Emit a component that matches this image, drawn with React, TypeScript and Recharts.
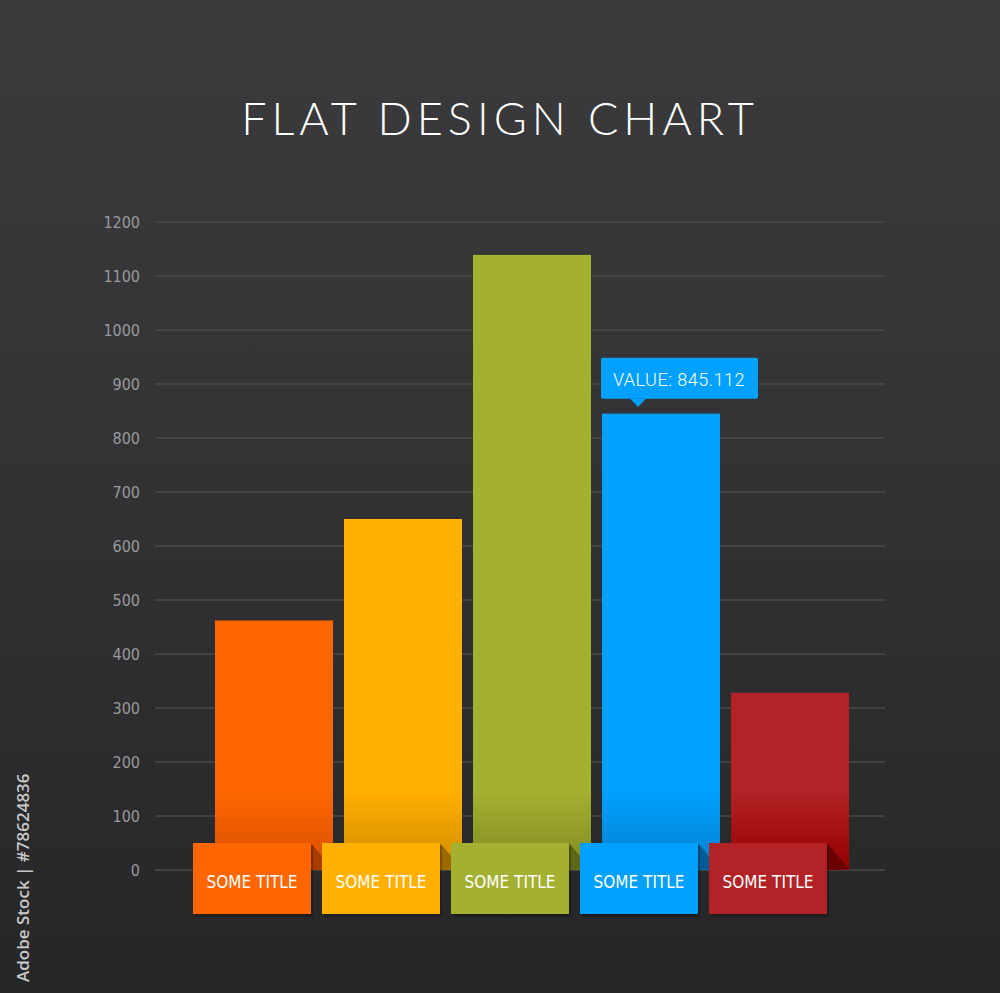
import React from "react";
import { BarChart, Bar, XAxis, YAxis, CartesianGrid, Cell, LabelList } from "recharts";

const categories = ["SOME TITLE", "SOME TITLE", "SOME TITLE", "SOME TITLE", "SOME TITLE"];
const values = [462, 650, 1139, 845.112, 328];
const colors = ["#ff6600", "#ffb000", "#a4b030", "#00a0ff", "#b22226"];
const darkColors = ["#d94f00", "#d08a00", "#808b22", "#0080cc", "#950000"];
const foldColors = ["#a63c00", "#9c6800", "#5e6618", "#005c96", "#6a0000"];
const yTicks = [0, 100, 200, 300, 400, 500, 600, 700, 800, 900, 1000, 1100, 1200];
const calloutIndex = 3;

const data = categories.map((name, i) => ({ id: i, name, value: values[i] }));

const W = 1000;
const H = 993;
const narrow = "'DejaVu Sans Condensed', 'Liberation Sans Narrow', 'Roboto', sans-serif";

function BarWithLabel(props: any) {
  const { x, y, width, height, index } = props;
  const base = y + height;
  const boxTop = base - 27;
  const boxX = x - 22;
  const boxH = 71;
  return (
    <g>
      <rect x={x} y={y} width={width} height={height} fill={`url(#grad${index})`} />
      <polygon
        points={`${boxX + width},${boxTop} ${x + width},${base - 1} ${boxX + width},${base}`}
        fill={foldColors[index]}
      />
      <rect x={boxX + 2} y={boxTop + 3} width={width} height={boxH} fill="#000" opacity={0.25} />
      <rect x={boxX} y={boxTop} width={width} height={boxH} fill={colors[index]} />
      <text
        x={boxX + width / 2}
        y={boxTop + 45}
        textAnchor="middle"
        fill="#ffffff"
        fontSize={17}
        fontFamily={narrow}
      >
        {categories[index]}
      </text>
    </g>
  );
}

function Callout(props: any) {
  const { x, y, index, value } = props;
  if (index !== calloutIndex) return null;
  const bx = x - 1;
  const by = y - 56;
  const tipX = bx + 37;
  return (
    <g>
      <rect x={bx} y={by} width={157} height={41} rx={2} fill={colors[index]} />
      <polygon points={`${tipX - 8},${by + 41} ${tipX + 8},${by + 41} ${tipX},${by + 49}`} fill={colors[index]} />
      <text
        x={bx + 78}
        y={by + 28}
        textAnchor="middle"
        fill="#ffffff"
        fontSize={18}
        letterSpacing={0.5}
        fontFamily="'Roboto', sans-serif"
        fontWeight={300}
      >
        {`VALUE: ${value.toFixed(3)}`}
      </text>
    </g>
  );
}

export default function App() {
  return (
    <div
      style={{
        position: "relative",
        width: W,
        height: H,
        background: "linear-gradient(180deg, #3b3b3d 0%, #333335 45%, #262628 100%)",
        overflow: "hidden",
      }}
    >
      <style>{`body{margin:0}`}</style>
      <div
        style={{
          position: "absolute",
          top: 91,
          left: 0,
          width: W,
          textAlign: "center",
          color: "#ffffff",
          fontFamily: "'Lato', 'Open Sans', sans-serif",
          fontWeight: 300,
          fontSize: 45,
          letterSpacing: 5,
        }}
      >
        FLAT DESIGN CHART
      </div>
      <div
        style={{
          position: "absolute",
          left: 11,
          top: 982,
          transform: "rotate(-90deg)",
          transformOrigin: "left top",
          color: "#c8c8c8",
          fontFamily: "'Open Sans', sans-serif",
          fontWeight: 600,
          fontSize: 17,
          whiteSpace: "nowrap",
        }}
      >
        Adobe Stock | #78624836
      </div>
      <div style={{ position: "absolute", left: 0, top: 0 }}>
        <BarChart
          width={W}
          height={H}
          data={data}
          margin={{ top: 222, right: 115, bottom: 123, left: 95 }}
          barSize={118}
        >
          <defs>
            {colors.map((c, i) => (
              <linearGradient key={i} id={`grad${i}`} x1="0" y1="790" x2="0" y2="870" gradientUnits="userSpaceOnUse">
                <stop offset="0%" stopColor={c} />
                <stop offset="100%" stopColor={darkColors[i]} />
              </linearGradient>
            ))}
          </defs>
          <CartesianGrid vertical={false} stroke="#4a4a4c" strokeWidth={1.5} />
          <XAxis dataKey="id" hide padding={{ left: 54, right: 31 }} />
          <YAxis
            domain={[0, 1200]}
            ticks={yTicks}
            width={60}
            axisLine={false}
            tickLine={false}
            tickSize={0}
            tickMargin={15}
            tick={{ fill: "#9a9a9c", fontSize: 16, fontFamily: narrow }}
            interval={0}
          />
          <Bar dataKey="value" isAnimationActive={false} shape={<BarWithLabel />}>
            {data.map((d, i) => (
              <Cell key={d.id} fill={colors[i]} />
            ))}
            <LabelList dataKey="value" content={<Callout />} />
          </Bar>
        </BarChart>
      </div>
    </div>
  );
}
